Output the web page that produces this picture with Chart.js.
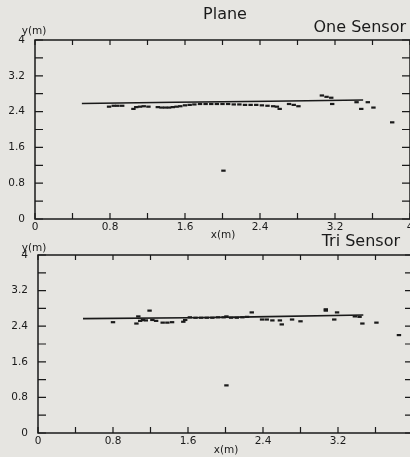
<!DOCTYPE html>
<html>
<head>
<meta charset="utf-8">
<script src="https://cdn.jsdelivr.net/npm/chart.js@4.4.1/dist/chart.umd.min.js"></script>
<style>
    html, body { margin: 0; padding: 0; width: 410px; height: 457px; overflow: hidden; background: #e6e5e1; }
    .box { position: absolute; left: 0; }
    #top_box { top: 0; width: 430px; height: 245px; }
    #bottom_box { top: 230px; width: 430px; height: 227px; }
</style>
</head>
<body>
<div class="box" id="top_box"><canvas id="topChart"></canvas></div>
<div class="box" id="bottom_box"><canvas id="bottomChart"></canvas></div>
<script>
// One Sensor: reference path + measured points
const one_path_x = [0.50, 1.50, 2.50, 3.50];
const one_path_y = [2.58, 2.61, 2.63, 2.66];
const one_x = [0.79, 0.84, 0.88, 0.93, 1.05, 1.08, 1.12, 1.16, 1.21, 1.31, 1.35, 1.39, 1.43, 1.47, 1.51, 1.55,
    1.60, 1.65, 1.70, 1.76, 1.82, 1.88, 1.94, 2.00, 2.06, 2.12, 2.18, 2.24, 2.30, 2.36, 2.42, 2.48, 2.54, 2.58,
    2.61, 2.71, 2.76, 2.81, 3.06, 3.11, 3.16, 3.17, 3.43, 3.48, 3.55, 3.61, 3.81, 2.01];
const one_y = [2.51, 2.53, 2.53, 2.53, 2.46, 2.50, 2.51, 2.52, 2.51, 2.50, 2.49, 2.49, 2.49, 2.50, 2.51, 2.52,
    2.54, 2.55, 2.56, 2.57, 2.57, 2.57, 2.57, 2.57, 2.57, 2.56, 2.56, 2.55, 2.55, 2.55, 2.54, 2.53, 2.52, 2.51,
    2.46, 2.57, 2.55, 2.52, 2.76, 2.73, 2.71, 2.57, 2.61, 2.46, 2.61, 2.49, 2.16, 1.08];

// Tri Sensor: reference path + measured points
const tri_path_x = [0.48, 1.60, 2.30, 3.47];
const tri_path_y = [2.57, 2.59, 2.61, 2.65];
const tri_x = [0.80, 1.05, 1.07, 1.09, 1.12, 1.15, 1.19, 1.22, 1.26, 1.33, 1.38, 1.43, 1.55, 1.57,
    1.62, 1.68, 1.74, 1.80, 1.86, 1.92, 1.98, 2.01, 2.06, 2.12, 2.18, 2.23, 2.28, 2.39, 2.44, 2.50,
    2.58, 2.60, 2.71, 2.80, 3.07, 3.07, 3.16, 3.19, 3.38, 3.43, 3.46, 3.61, 3.85, 2.01];
const tri_y = [2.49, 2.46, 2.62, 2.52, 2.54, 2.53, 2.75, 2.54, 2.52, 2.48, 2.48, 2.49, 2.50, 2.54,
    2.60, 2.59, 2.59, 2.59, 2.59, 2.60, 2.60, 2.62, 2.59, 2.59, 2.60, 2.61, 2.71, 2.55, 2.55, 2.53,
    2.53, 2.44, 2.55, 2.51, 2.78, 2.75, 2.55, 2.71, 2.62, 2.61, 2.46, 2.48, 2.20, 1.07];

const axis_min = 0;
const axis_max = 4;
const tick_step = 0.4;

const ink = '#1a1a1a';
const font_family = '"DejaVu Sans", sans-serif';

function tick_label(value) {
    const v = Math.round(value * 10) / 10;
    if (Math.round(v * 10) % 8 !== 0) return '';
    return Number.isInteger(v) ? String(v) : v.toFixed(1);
}

function to_points(xs, ys) {
    return xs.map((x, i) => ({x: x, y: ys[i]}));
}

// box around the plot, inward ticks on all four sides, and the free texts
const frame_plugin = {
    id: 'frame',
    afterDraw(chart, args, opts) {
        const ctx = chart.ctx;
        const a = chart.chartArea;
        const xs = chart.scales.x;
        const ys = chart.scales.y;
        ctx.save();
        ctx.strokeStyle = ink;
        ctx.lineWidth = 1.5;
        ctx.strokeRect(a.left, a.top, a.right - a.left, a.bottom - a.top);
        ctx.lineWidth = 1.2;
        ctx.beginPath();
        xs.ticks.forEach(t => {
            const px = xs.getPixelForValue(t.value);
            ctx.moveTo(px, a.bottom);
            ctx.lineTo(px, a.bottom - 6);
            ctx.moveTo(px, a.top);
            ctx.lineTo(px, a.top + 5);
        });
        ys.ticks.forEach(t => {
            const py = ys.getPixelForValue(t.value);
            ctx.moveTo(a.left, py);
            ctx.lineTo(a.left + 8, py);
            ctx.moveTo(a.right, py);
            ctx.lineTo(a.right - 8, py);
        });
        ctx.stroke();

        ctx.fillStyle = ink;
        ctx.textBaseline = 'middle';
        (opts.texts || []).forEach(t => {
            ctx.font = t.size + 'px ' + font_family;
            ctx.textAlign = t.align || 'center';
            ctx.fillText(t.text, t.x, t.y);
        });
        ctx.restore();
    }
};

function draw_plot(canvas_id, path_x, path_y, pts_x, pts_y, y_width, pad, x_height, texts) {
    const ctx = document.getElementById(canvas_id).getContext('2d');
    return new Chart(ctx, {
        type: 'scatter',
        data: {
            datasets: [
                {
                    data: to_points(path_x, path_y),
                    showLine: true,
                    borderColor: ink,
                    borderWidth: 1.6,
                    pointRadius: 0,
                    tension: 0
                },
                {
                    data: to_points(pts_x, pts_y),
                    showLine: false,
                    pointStyle: 'line',
                    pointRadius: 2.2,
                    borderWidth: 2.2,
                    borderColor: ink,
                    backgroundColor: ink
                }
            ]
        },
        options: {
            responsive: true,
            maintainAspectRatio: false,
            animation: false,
            layout: {padding: pad},
            plugins: {
                legend: {display: false},
                tooltip: {enabled: false},
                frame: {texts: texts}
            },
            scales: {
                x: {
                    type: 'linear',
                    min: axis_min,
                    max: axis_max,
                    afterFit: s => { s.height = x_height; },
                    grid: {display: false, drawTicks: false},
                    border: {display: false},
                    ticks: {
                        stepSize: tick_step,
                        autoSkip: false,
                        maxRotation: 0,
                        padding: 2,
                        color: ink,
                        font: {family: font_family, size: 10.5},
                        callback: tick_label
                    }
                },
                y: {
                    type: 'linear',
                    min: axis_min,
                    max: axis_max,
                    afterFit: s => { s.width = y_width; },
                    grid: {display: false, drawTicks: false},
                    border: {display: false},
                    ticks: {
                        stepSize: tick_step,
                        autoSkip: false,
                        padding: 10,
                        color: ink,
                        font: {family: font_family, size: 10.5},
                        callback: tick_label
                    }
                }
            }
        },
        plugins: [frame_plugin]
    });
}

draw_plot('topChart', one_path_x, one_path_y, one_x, one_y, 35,
    {left: 0, top: 40, right: 20, bottom: 0}, 26, [
        {text: 'Plane', x: 225, y: 15, size: 16},
        {text: 'One Sensor', x: 406, y: 28, size: 16, align: 'right'},
        {text: 'y(m)', x: 34, y: 31, size: 10.5},
        {text: 'x(m)', x: 223, y: 235, size: 10.5}
    ]);

draw_plot('bottomChart', tri_path_x, tri_path_y, tri_x, tri_y, 38,
    {left: 0, top: 25, right: 17, bottom: 0}, 24, [
        {text: 'Tri Sensor', x: 400, y: 12, size: 16, align: 'right'},
        {text: 'y(m)', x: 34, y: 18, size: 10.5},
        {text: 'x(m)', x: 226, y: 220, size: 10.5}
    ]);
</script>
</body>
</html>
